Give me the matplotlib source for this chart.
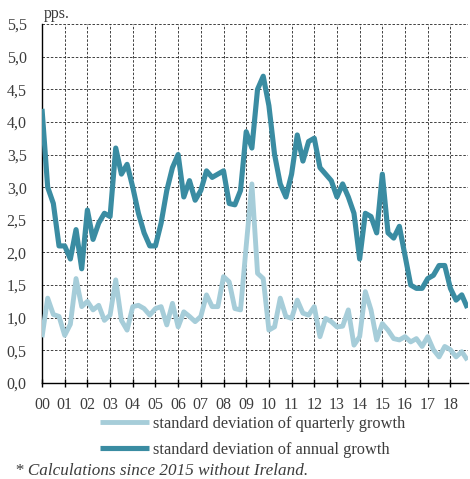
import matplotlib
matplotlib.use("Agg")
import matplotlib.pyplot as plt

plt.rcParams['font.family'] = ['Liberation Serif', 'DejaVu Serif']

# quarterly data 2000Q1 - 2018Q4
quarterly_sd = [0.70, 1.30, 1.05, 1.02, 0.73, 0.90, 1.60, 1.17,
                1.25, 1.12, 1.19, 0.96, 1.04, 1.58, 0.96, 0.81,
                1.17, 1.19, 1.14, 1.04, 1.14, 1.17, 0.89, 1.22,
                0.86, 1.09, 1.02, 0.94, 1.02, 1.35, 1.17, 1.17,
                1.63, 1.55, 1.14, 1.12, 2.10, 3.05, 1.68, 1.60,
                0.81, 0.86, 1.30, 1.02, 0.99, 1.27, 1.07, 1.04,
                1.17, 0.71, 0.99, 0.94, 0.86, 0.87, 1.12, 0.58,
                0.71, 1.40, 1.12, 0.66, 0.91, 0.81, 0.68, 0.66,
                0.71, 0.63, 0.68, 0.56, 0.71, 0.51, 0.40, 0.56,
                0.51, 0.40, 0.48, 0.35]
annual_sd = [4.20, 3.00, 2.75, 2.10, 2.10, 1.90, 2.35, 1.75,
             2.65, 2.20, 2.45, 2.60, 2.55, 3.60, 3.20, 3.35,
             3.00, 2.60, 2.30, 2.10, 2.10, 2.45, 2.95, 3.30,
             3.50, 2.85, 3.10, 2.80, 2.95, 3.25, 3.15, 3.20,
             3.25, 2.75, 2.73, 2.95, 3.85, 3.60, 4.50, 4.70,
             4.25, 3.50, 3.05, 2.85, 3.20, 3.80, 3.40, 3.70,
             3.75, 3.30, 3.20, 3.10, 2.85, 3.05, 2.85, 2.60,
             1.90, 2.60, 2.55, 2.30, 3.20, 2.30, 2.22, 2.40,
             1.95, 1.50, 1.45, 1.45, 1.60, 1.65, 1.80, 1.80,
             1.45, 1.27, 1.35, 1.15]
x = list(range(len(annual_sd)))

year_labels = ['00', '01', '02', '03', '04', '05', '06', '07', '08', '09',
               '10', '11', '12', '13', '14', '15', '16', '17', '18']
y_ticks = [0.0, 0.5, 1.0, 1.5, 2.0, 2.5, 3.0, 3.5, 4.0, 4.5, 5.0, 5.5]
y_labels = ['0,0', '0,5', '1,0', '1,5', '2,0', '2,5', '3,0', '3,5',
            '4,0', '4,5', '5,0', '5,5']

txt = '#3c3c3c'
light = '#a6cdd9'
dark = '#3a8ca2'

fig = plt.figure(figsize=(4.7, 4.79), dpi=100)
ax = fig.add_axes([42 / 470, 1 - 383 / 479, 426 / 470, 359 / 479])

ax.plot(x, quarterly_sd, color=light, lw=3.5, solid_capstyle='butt',
        label='standard deviation of quarterly growth', zorder=3)
ax.plot(x, annual_sd, color=dark, lw=3.7, solid_capstyle='butt',
        label='standard deviation of annual growth', zorder=4)

ax.set_xlim(0, 75.1)
ax.set_ylim(0, 5.5)
ax.set_xticks([i * 4 for i in range(len(year_labels))])
ax.set_xticklabels(year_labels)
ax.set_yticks(y_ticks)
ax.set_yticklabels(y_labels)

ax.grid(True, color='#222222', linestyle=(0, (3, 2)), linewidth=0.6)
ax.set_axisbelow(True)
for s in ['top', 'right']:
    ax.spines[s].set_visible(False)
for s in ['left', 'bottom']:
    ax.spines[s].set_linewidth(1.0)
    ax.spines[s].set_color('black')

ax.tick_params(axis='x', direction='inout', length=6, width=1.0, pad=7,
               labelsize=11.5, labelcolor=txt)
ax.tick_params(axis='y', length=0, pad=11, labelsize=11.5, labelcolor=txt)

fig.text(44 / 470, 1 - 18 / 479, 'pps.', fontsize=11.5, color=txt)

fig.legend(loc='upper left', bbox_to_anchor=(100 / 470, 1 - 416 / 479),
           frameon=False, fontsize=11.8, handlelength=3.0, handletextpad=0.25,
           labelspacing=0.6, borderpad=0, borderaxespad=0, labelcolor=txt)

fig.text(15 / 470, 1 - 475 / 479, '* Calculations since 2015 without Ireland.',
         fontsize=12.3, style='italic', color=txt)

plt.savefig('out.png', dpi=100)
